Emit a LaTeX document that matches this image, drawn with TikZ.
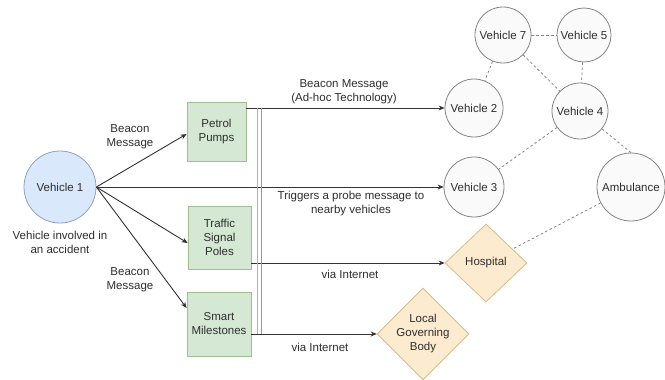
\documentclass[tikz,border=0pt]{standalone}
\usepackage{fontspec}
\setmainfont{Liberation Sans}
\usetikzlibrary{shapes.geometric,arrows.meta}
\definecolor{txt}{HTML}{2E2E2E}
\definecolor{bluefill}{HTML}{DAE8FC}
\definecolor{bluedraw}{HTML}{8CA3C2}
\definecolor{greenfill}{HTML}{D5E8D4}
\definecolor{greendraw}{HTML}{9DBF90}
\definecolor{greyfill}{HTML}{FAFAFA}
\definecolor{greydraw}{HTML}{858585}
\definecolor{orangefill}{HTML}{FDEBCF}
\definecolor{orangedraw}{HTML}{D8BD8A}
\definecolor{edgecol}{HTML}{333333}
\definecolor{pinkline}{HTML}{C4A3B2}
\definecolor{greyline}{HTML}{9A9A9A}
\begin{document}
\begin{tikzpicture}[x=1pt,y=-1pt,
  every node/.style={font=\fontsize{11.5}{14}\selectfont, text=txt, align=center},
  vehicle/.style={circle, draw=greydraw, fill=greyfill, line width=0.8pt, inner sep=0pt},
  greenbox/.style={rectangle, draw=greendraw, fill=greenfill, line width=0.8pt, inner sep=0pt},
  orgbox/.style={diamond, draw=orangedraw, fill=orangefill, line width=0.8pt, inner sep=0pt},
  arr/.style={draw=edgecol, line width=0.9pt, -{Stealth[length=6pt,width=5pt]}},
  link/.style={draw=greydraw, line width=0.8pt, dash pattern=on 2.5pt off 2.5pt},
  lbl/.style={inner sep=0pt}
]
\useasboundingbox (0,0) rectangle (665,380);
\fill[white] (0,0) rectangle (665,380);

% nodes
\node[circle, draw=bluedraw, fill=bluefill, line width=0.8pt, minimum size=72pt, inner sep=0pt] (v1) at (60,187) {Vehicle 1};
\node[lbl] (note) at (60,242) {Vehicle involved in\\an accident};

\node[greenbox, minimum width=59pt, minimum height=59pt] (pp) at (216.5,131.5) {Petrol\\Pumps};
\node[greenbox, minimum width=63pt, minimum height=63pt] (tsp) at (219.5,237.5) {Traffic\\Signal\\Poles};
\node[greenbox, minimum width=64pt, minimum height=64pt] (sm) at (219,324) {Smart\\Milestones};

\node[vehicle, minimum size=58pt] (v2) at (474,108) {Vehicle 2};
\node[vehicle, minimum size=60pt] (v3) at (474,187) {Vehicle 3};
\node[vehicle, minimum size=56pt] (v7) at (503,35) {Vehicle 7};
\node[vehicle, minimum size=54pt] (v5) at (584,35) {Vehicle 5};
\node[vehicle, minimum size=56pt] (v4) at (580,111) {Vehicle 4};
\node[vehicle, minimum size=68pt] (amb) at (631,187) {Ambulance};

\node[orgbox, minimum width=82pt, minimum height=78pt] (hosp) at (486,263) {Hospital};
\node[orgbox, minimum width=82pt, minimum height=82pt] (lgb) at (423,334) {Local\\Governing\\Body};

% arrows from vehicle 1
\draw[arr] (v1.east) -- ([yshift=-2.5pt]pp.west);
\draw[arr] (v1.east) -- ([yshift=-5.5pt]tsp.west);
\draw[arr] (v1.east) -- ([yshift=16pt]sm.west);
\draw[arr] (v1.east) -- (v3.west);

% horizontal arrows to receivers
\draw[arr] (pp.east |- v2) -- (v2);
\draw[arr] (tsp.east |- hosp) -- (hosp);
\draw[arr] (sm.east |- lgb) -- (lgb);

% double vertical bar
\coordinate (bt) at ([xshift=11pt]pp.east |- v2);
\coordinate (bb) at ([xshift=11pt]pp.east |- lgb);
\draw[pinkline, line width=0.8pt] (bt) -- (bb);
\draw[greyline, line width=0.8pt] ([xshift=4pt]bt) -- ([xshift=4pt]bb);

% dashed links
\draw[link] (v7) -- (v5);
\draw[link] (v7) -- (v2);
\draw[link] (v7) -- (v4);
\draw[link] (v5) -- (v4);
\draw[link] (v4) -- (v3);
\draw[link] (v4) -- (amb.north);
\draw[link] (amb) -- (hosp);

% labels
\node[lbl] (l1) at (130,137) {Beacon\\Message};
\node[lbl] (l2) at (130,280) {Beacon\\Message};
\node[lbl] (l3) at (344,92) {Beacon Message\\(Ad-hoc Technology)};
\node[lbl] (l4) at (351,204) {Triggers a probe message to\\nearby vehicles};
\node[lbl] (l5) at (350,274) {via Internet};
\node[lbl] (l6) at (320,347) {via Internet};
\end{tikzpicture}
\end{document}
